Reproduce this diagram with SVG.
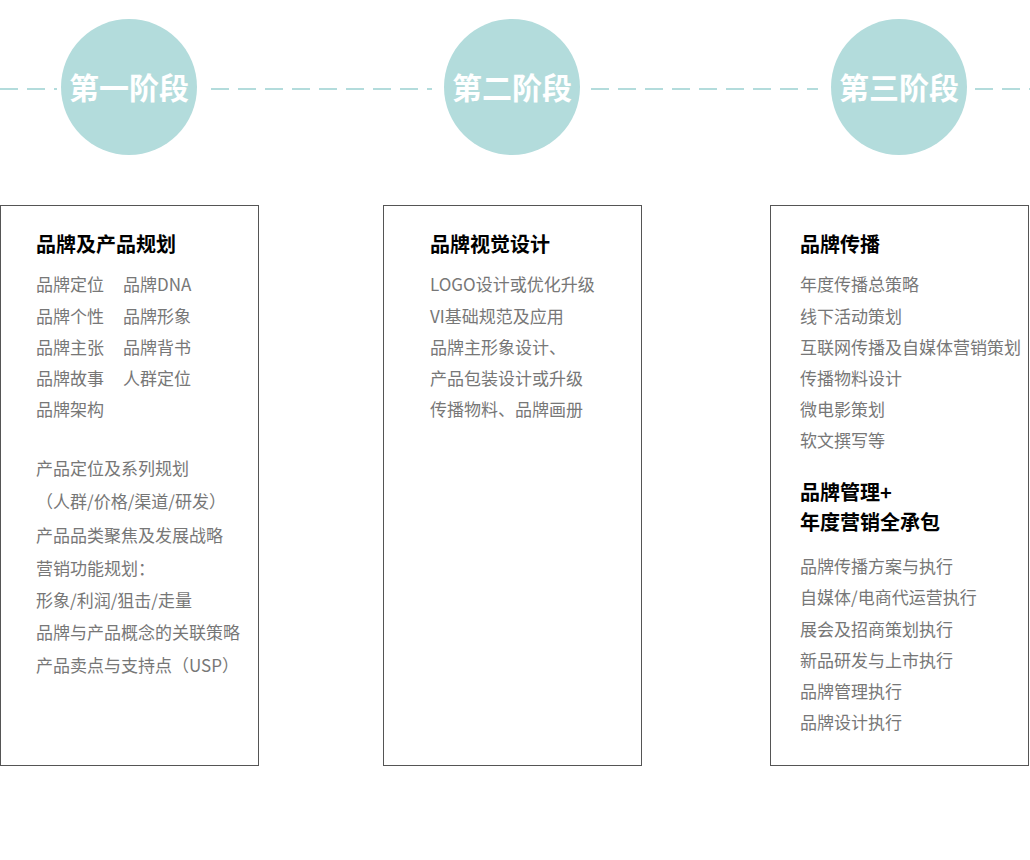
<svg xmlns="http://www.w3.org/2000/svg" width="1030" height="860" viewBox="0 0 1030 860">
<style>
.dash{stroke:#b3dcdc;stroke-width:2;stroke-dasharray:18 9;fill:none}
.c{fill:#b3dcdc}
.ct{font-family:"Noto Sans CJK SC",sans-serif;font-size:30px;font-weight:bold;fill:#fff;text-anchor:middle}
.box{fill:#fff;stroke:#555;stroke-width:1}
.h{font-family:"Noto Sans CJK SC",sans-serif;font-size:20px;font-weight:bold;fill:#000}
.t{font-family:"Noto Sans CJK SC",sans-serif;font-size:17px;fill:#777}
</style>
<rect width="1030" height="860" fill="#fff"/>
<g id="connectors">
<line class="dash" x1="0" y1="89" x2="57" y2="89"/>
<line class="dash" x1="211" y1="89" x2="432" y2="89"/>
<line class="dash" x1="591" y1="89" x2="818" y2="89"/>
<line class="dash" x1="975" y1="89" x2="1030" y2="89"/>
</g>
<g id="stage1"><circle class="c" cx="129" cy="87" r="68"/><text class="ct" x="129" y="99">第一阶段</text></g>
<g id="stage2"><circle class="c" cx="512" cy="87" r="68"/><text class="ct" x="512" y="99">第二阶段</text></g>
<g id="stage3"><circle class="c" cx="899" cy="87" r="68"/><text class="ct" x="899" y="99">第三阶段</text></g>
<g id="box1">
<rect class="box" x="0.5" y="205.5" width="258" height="560"/>
<text class="h" x="36" y="252">品牌及产品规划</text>
<text class="t" x="36" y="291">品牌定位</text><text class="t" x="123" y="291">品牌DNA</text>
<text class="t" x="36" y="323">品牌个性</text><text class="t" x="123" y="323">品牌形象</text>
<text class="t" x="36" y="354">品牌主张</text><text class="t" x="123" y="354">品牌背书</text>
<text class="t" x="36" y="385">品牌故事</text><text class="t" x="123" y="385">人群定位</text>
<text class="t" x="36" y="416">品牌架构</text>
<text class="t" x="36" y="475">产品定位及系列规划</text>
<text class="t" x="36" y="508">（人群/价格/渠道/研发）</text>
<text class="t" x="36" y="542">产品品类聚焦及发展战略</text>
<text class="t" x="36" y="575">营销功能规划：</text>
<text class="t" x="36" y="607">形象/利润/狙击/走量</text>
<text class="t" x="36" y="639">品牌与产品概念的关联策略</text>
<text class="t" x="36" y="672">产品卖点与支持点（USP）</text>
</g>
<g id="box2">
<rect class="box" x="383.5" y="205.5" width="258" height="560"/>
<text class="h" x="430" y="252">品牌视觉设计</text>
<text class="t" x="430" y="291">LOGO设计或优化升级</text>
<text class="t" x="430" y="323">VI基础规范及应用</text>
<text class="t" x="430" y="354">品牌主形象设计、</text>
<text class="t" x="430" y="385">产品包装设计或升级</text>
<text class="t" x="430" y="416">传播物料、品牌画册</text>
</g>
<g id="box3">
<rect class="box" x="770.5" y="205.5" width="258" height="560"/>
<text class="h" x="800" y="252">品牌传播</text>
<text class="t" x="800" y="291">年度传播总策略</text>
<text class="t" x="800" y="323">线下活动策划</text>
<text class="t" x="800" y="354">互联网传播及自媒体营销策划</text>
<text class="t" x="800" y="385">传播物料设计</text>
<text class="t" x="800" y="416">微电影策划</text>
<text class="t" x="800" y="447">软文撰写等</text>
<text class="h" x="800" y="500">品牌管理+</text>
<text class="h" x="800" y="530">年度营销全承包</text>
<text class="t" x="800" y="573">品牌传播方案与执行</text>
<text class="t" x="800" y="604">自媒体/电商代运营执行</text>
<text class="t" x="800" y="636">展会及招商策划执行</text>
<text class="t" x="800" y="667">新品研发与上市执行</text>
<text class="t" x="800" y="698">品牌管理执行</text>
<text class="t" x="800" y="729">品牌设计执行</text>
</g>
</svg>
